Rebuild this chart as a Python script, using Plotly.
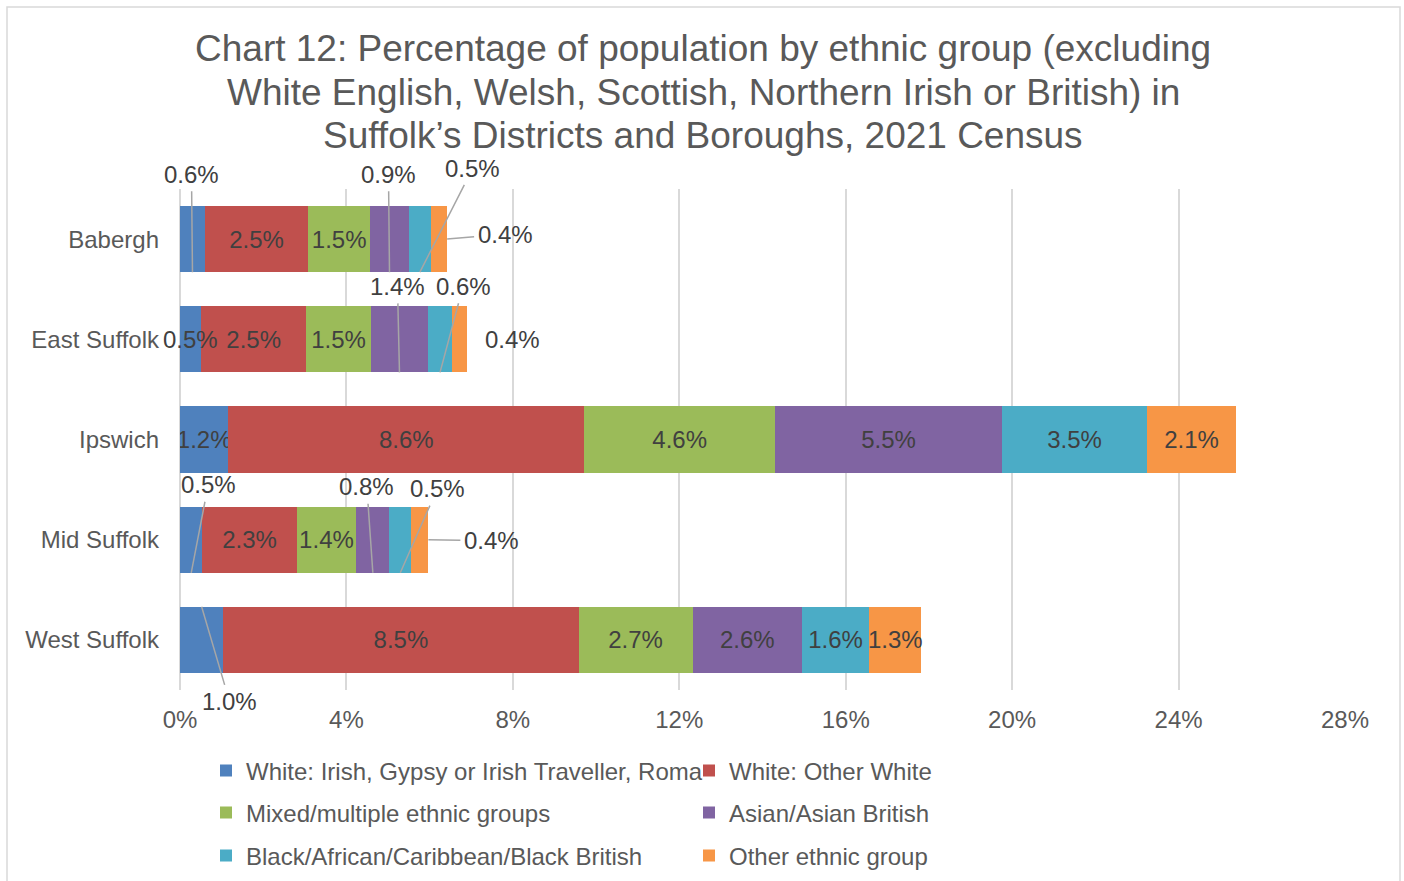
import plotly.graph_objects as go

districts = ["Babergh", "East Suffolk", "Ipswich", "Mid Suffolk", "West Suffolk"]

series_names = [
    "White: Irish, Gypsy or Irish Traveller, Roma",
    "White: Other White",
    "Mixed/multiple ethnic groups",
    "Asian/Asian British",
    "Black/African/Caribbean/Black British",
    "Other ethnic group",
]

white_irish_gypsy_roma = [0.60, 0.50, 1.16, 0.54, 1.04]
white_other = [2.48, 2.54, 8.56, 2.26, 8.54]
mixed = [1.49, 1.54, 4.58, 1.44, 2.74]
asian = [0.93, 1.39, 5.46, 0.79, 2.63]
black = [0.53, 0.56, 3.48, 0.53, 1.61]
other = [0.39, 0.36, 2.14, 0.41, 1.26]

title_lines = [
    "Chart 12: Percentage of population by ethnic group (excluding",
    "White English, Welsh, Scottish, Northern Irish or British) in",
    "Suffolk\u2019s Districts and Boroughs, 2021 Census",
]

x_ticks = [0, 4, 8, 12, 16, 20, 24, 28]

series_values = [white_irish_gypsy_roma, white_other, mixed, asian, black, other]
colors = ["#4F81BD", "#C0504D", "#9BBB59", "#8064A2", "#4BACC6", "#F79646"]

# labels drawn as annotations (leader line or shifted):
# (district index, series index) -> (anchor, ax, ay)
outside_labels = {
    (0, 0): ("bottom", -1, -98),
    (0, 3): ("bottom", -1, -98),
    (0, 4): ("bottom", 53, -104),
    (0, 5): ("end", 58, -5),
    (1, 0): ("shift", 0, 0),
    (1, 3): ("bottom", -2, -86),
    (1, 4): ("bottom", 23, -86),
    (1, 5): ("shift", 53, 0),
    (3, 0): ("bottom", 17, -88),
    (3, 3): ("bottom", -6, -86),
    (3, 4): ("bottom", 37, -84),
    (3, 5): ("end", 63, 1),
    (4, 0): ("top", 28, 95),
}

FONT = "Arial, Liberation Sans, sans-serif"
GREY = "#595959"
LABEL = "#404040"
HALF = 0.33

# plot area in pixels
L, R, T, B = 180, 1345, 189, 690


def px_x(px):
    return (px - L) / (R - L)


def px_y(py):
    return (B - py) / (B - T)


fig = go.Figure()

legend_pos = [(206, 771), (689, 771), (206, 813), (689, 813), (206, 856), (689, 856)]

for s, (name, vals, col) in enumerate(zip(series_names, series_values, colors)):
    texts = []
    for d, v in enumerate(vals):
        texts.append("" if (d, s) in outside_labels else f"{v:.1f}%")
    lg = "legend" if s == 0 else f"legend{s + 1}"
    fig.add_trace(go.Bar(
        y=districts, x=vals, name=name, orientation="h",
        marker=dict(color=col, line=dict(width=0)),
        text=texts, textposition="inside", insidetextanchor="middle",
        textangle=0, constraintext="none",
        insidetextfont=dict(family=FONT, size=24, color=LABEL),
        hovertemplate="%{y}: %{x:.1f}%<extra>" + name + "</extra>",
        legend=lg,
    ))

annotations = []
for (d, s), (anchor, ax, ay) in outside_labels.items():
    v = series_values[s][d]
    start = sum(series_values[k][d] for k in range(s))
    end = start + v
    mid = start + v / 2
    base = dict(text=f"{v:.1f}%", xref="x", yref="y",
                font=dict(family=FONT, size=24, color=LABEL))
    if anchor == "shift":
        annotations.append(dict(base, x=mid, y=d, showarrow=False, xshift=ax, yshift=-ay))
        continue
    if anchor == "bottom":
        hx, hy = mid, d + HALF
    elif anchor == "top":
        hx, hy = mid, d - HALF
    else:
        hx, hy = end, d
    annotations.append(dict(base, x=hx, y=hy, ax=ax, ay=ay, showarrow=True,
                            arrowhead=0, arrowwidth=1.5, arrowcolor="#A6A6A6",
                            standoff=0, startstandoff=2))

for line, cy in zip(title_lines, [49, 92, 135]):
    annotations.append(dict(
        text=line, xref="paper", yref="paper", x=px_x(703), y=px_y(cy),
        xanchor="center", yanchor="middle", showarrow=False,
        font=dict(family=FONT, size=37, color=GREY),
    ))

legends = {}
for i, (lx, ly) in enumerate(legend_pos):
    key = "legend" if i == 0 else f"legend{i + 1}"
    legends[key] = dict(
        xref="container", yref="container",
        x=lx / 1404, y=1 - ly / 881, xanchor="left", yanchor="middle",
        orientation="h", bgcolor="rgba(0,0,0,0)",
        font=dict(family=FONT, size=24, color=GREY),
    )

fig.update_layout(
    barmode="stack",
    bargap=0.34,
    width=1404,
    height=881,
    margin=dict(l=L, r=1404 - R, t=T, b=881 - B),
    paper_bgcolor="white",
    plot_bgcolor="white",
    xaxis=dict(
        range=[0, 28], tickmode="array", tickvals=x_ticks,
        ticktext=[f"{t}%" for t in x_ticks],
        showgrid=True, gridcolor="#D9D9D9", gridwidth=1.5,
        zeroline=True, zerolinecolor="#D9D9D9", zerolinewidth=1.5,
        showline=False, ticks="", ticklabelstandoff=13,
        tickfont=dict(family=FONT, size=24, color=GREY),
        fixedrange=True,
    ),
    yaxis=dict(
        autorange="reversed", showgrid=False, zeroline=False, showline=False,
        ticks="", ticklabelstandoff=20,
        tickfont=dict(family=FONT, size=24, color=GREY),
        fixedrange=True,
    ),
    annotations=annotations,
    shapes=[dict(
        type="rect", xref="paper", yref="paper",
        x0=px_x(7), x1=px_x(1400), y0=px_y(900), y1=px_y(7),
        line=dict(color="#D9D9D9", width=1.5), fillcolor="rgba(0,0,0,0)",
        layer="below",
    )],
    showlegend=True,
    **legends,
)

fig.write_html(
    "out.html",
    config={"displayModeBar": False},
    post_script="document.body.style.margin='0';document.body.style.overflow='hidden';",
)
